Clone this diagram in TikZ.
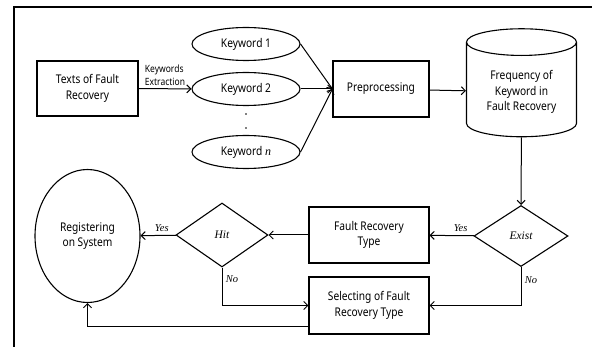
\documentclass[tikz,border=0pt]{standalone}
\usepackage{fontspec}
\setmainfont{Noto Sans}[FakeStretch=0.85]
\newfontfamily\labelfont{Liberation Serif}
\usetikzlibrary{shapes.geometric, arrows.meta, positioning}
\tikzset{
    box/.style={rectangle, minimum width=120pt, minimum height=56pt, text centered, draw, line width=1.1pt, align=center},
    keyword/.style={ellipse, minimum width=108pt, minimum height=33pt, text centered, draw, line width=1.1pt},
    database/.style={cylinder, shape border rotate=90, aspect=0.35, minimum width=110pt, minimum height=108pt, text centered, draw, line width=1.1pt, align=center},
    decision/.style={diamond, text centered, draw, line width=1.1pt, font=\labelfont\itshape\fontsize{11.5}{13}\selectfont},
    answer/.style={font=\labelfont\itshape\fontsize{10.5}{12}\selectfont},
    dotmark/.style={circle, fill, inner sep=0pt, minimum size=1.6pt},
    flow/.style={-{Straight Barb[length=4pt, width=8pt]}, line width=1pt}
}

\begin{document}
\begin{tikzpicture} [
    x=1pt, y=-1pt,
    font=\fontsize{12}{15.5}\selectfont
]
    \useasboundingbox (0,0) rectangle (592,347);
    % Frame
    \draw[line width=1.1pt] (14,347) -- (14,7) -- (592,7);

    % Input
    \node[box, minimum width=101pt, minimum height=55pt] (texts) at (87.5,88.5) {Texts of Fault\\Recovery};

    % Keywords
    \node[keyword] (kw1) at (246,44) {Keyword 1};
    \node[keyword] (kw2) at (246,89) {Keyword 2};
    \node[dotmark] (dot1) at (246,114) {};
    \node[dotmark] (dot2) at (246,128) {};
    \node[keyword] (kwn) at (246,152) {Keyword {\labelfont\itshape n}};

    % Preprocessing and frequency
    \node[box, minimum width=96pt] (prep) at (381,89) {Preprocessing};
    \node[database] (freq) at (521.5,92) {Frequency of\\Keyword in\\Fault Recovery};

    % Decisions
    \node[decision, minimum width=94pt, minimum height=61pt] (exist) at (521,236) {Exist};
    \node[decision, minimum width=92pt, minimum height=64pt] (hit) at (222,235) {Hit};

    % Types
    \node[box] (type) at (369,235) {Fault Recovery\\Type};
    \node[box, minimum height=57pt] (select) at (369,305.5) {Selecting of Fault\\Recovery Type};

    % Result
    \node[ellipse, draw, line width=1.1pt, minimum width=105pt, minimum height=133pt, align=center] (register) at (87.5,236) {Registering\\on System};

    % Flows
    \draw[flow] (texts) -- (kw2) node[midway, above, align=left, font=\fontsize{10}{13}\selectfont, yshift=-1pt] {Keywords\\Extraction};
    \draw[flow] (kw1.east) -- (prep.west);
    \draw[flow] (kw2.east) -- (prep.west);
    \draw[flow] (kwn.east) -- (prep.west);
    \draw[flow] (prep) -- (freq);
    \draw[flow] (freq) -- (exist);
    \draw[flow] (exist) -- (type) node[pos=0.3, above, answer] {Yes};
    \draw[flow] (exist.south) |- (select.east) node[pos=0.17, right, answer] {No};
    \draw[flow] (type) -- (hit);
    \draw[flow] (hit) -- (register) node[pos=0.4, above, answer] {Yes};
    \draw[flow] (hit.south) |- (select.west) node[pos=0.15, right, answer] {No};
    \draw[flow] ([yshift=-21.5pt]select.west) -| (register.south);
\end{tikzpicture}
\end{document}
